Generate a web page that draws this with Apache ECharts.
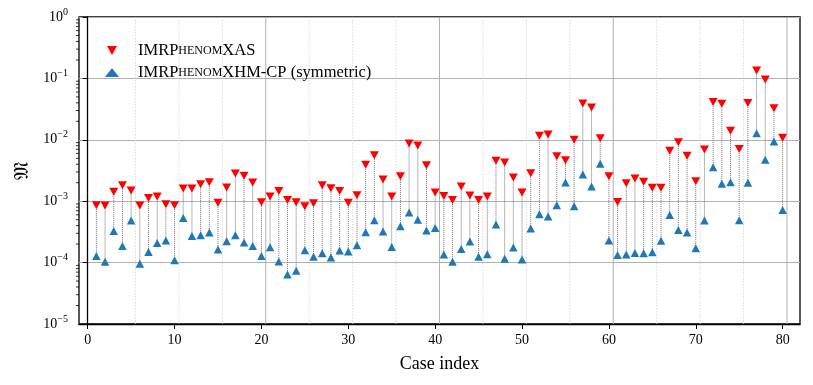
<!DOCTYPE html>
<html><head><meta charset="utf-8">
<script src="https://cdn.jsdelivr.net/npm/echarts@6/dist/echarts.min.js"></script>
<style>html,body{margin:0;padding:0;background:#fff}#c{width:813px;height:385px}</style>
</head><body><div id="c"></div>
<script>
// ---- data ----
const seriesNames = ['IMRPhenomXAS', 'IMRPhenomXHM-CP (symmetric)'];
const caseIndex = Array.from({length: 80}, (_, i) => i + 1);
const xasMismatch = [
  8.6e-4, 8.5e-4, 1.42e-3, 1.82e-3, 1.49e-3, 8.5e-4, 1.13e-3, 1.19e-3, 8.9e-4, 8.6e-4,
  1.61e-3, 1.61e-3, 1.89e-3, 2.04e-3, 9.4e-4, 1.67e-3, 2.83e-3, 2.59e-3, 2.01e-3, 9.6e-4,
  1.19e-3, 1.46e-3, 1.05e-3, 9.6e-4, 8.3e-4, 9.3e-4, 1.82e-3, 1.63e-3, 1.47e-3, 9.4e-4,
  1.25e-3, 3.91e-3, 5.62e-3, 2.26e-3, 1.19e-3, 2.56e-3, 8.7e-3, 8.09e-3, 3.86e-3, 1.38e-3,
  1.22e-3, 1.05e-3, 1.73e-3, 1.24e-3, 1.05e-3, 1.19e-3, 4.55e-3, 4.27e-3, 2.43e-3, 1.38e-3,
  2.86e-3, 1.16e-2, 1.22e-2, 5.42e-3, 4.66e-3, 1.0e-2, 3.91e-2, 3.37e-2, 1.06e-2, 2.56e-3,
  9.75e-4, 1.96e-3, 2.34e-3, 2.07e-3, 1.65e-3, 1.65e-3, 6.62e-3, 9.16e-3, 5.48e-3, 2.12e-3,
  6.95e-3, 4.11e-2, 3.86e-2, 1.40e-2, 7.05e-3, 3.96e-2, 0.135, 9.6e-2, 3.28e-2, 1.08e-2
];
const xhmMismatch = [
  1.28e-4, 1.03e-4, 3.28e-4, 1.87e-4, 4.84e-4, 9.6e-5, 1.49e-4, 2.09e-4, 2.29e-4, 1.09e-4,
  5.35e-4, 2.72e-4, 2.79e-4, 3.08e-4, 1.63e-4, 2.23e-4, 2.79e-4, 2.12e-4, 1.87e-4, 1.28e-4,
  1.78e-4, 1.04e-4, 6.4e-5, 7.4e-5, 1.59e-4, 1.25e-4, 1.42e-4, 1.21e-4, 1.57e-4, 1.51e-4,
  1.92e-4, 3.12e-4, 4.9e-4, 3.2e-4, 1.8e-4, 3.91e-4, 6.53e-4, 4.97e-4, 3.32e-4, 3.67e-4,
  1.35e-4, 1.03e-4, 1.67e-4, 2.2e-4, 1.25e-4, 1.37e-4, 4.17e-4, 1.15e-4, 1.76e-4, 1.12e-4,
  3.58e-4, 6.14e-4, 5.62e-4, 8.6e-4, 2.01e-3, 8.3e-4, 2.72e-3, 1.73e-3, 4.06e-3, 2.29e-4,
  1.33e-4, 1.35e-4, 1.44e-4, 1.42e-4, 1.47e-4, 2.26e-4, 5.98e-4, 3.41e-4, 3.08e-4, 1.71e-4,
  4.84e-4, 3.58e-3, 1.92e-3, 2.04e-3, 4.9e-4, 1.99e-3, 1.28e-2, 4.72e-3, 9.4e-3, 7.2e-4
];
const xTickLabels = [0, 10, 20, 30, 40, 50, 60, 70, 80];
const yDecades = [-5, -4, -3, -2, -1, 0];
const groupSize = 5;

// ---- derived ----
const X_MIN = -1, X_MAX = 82, Y_MIN = 1e-5, Y_MAX = 1;
const serif = '"Liberation Serif", "DejaVu Serif", serif';

const separators = [];
for (let k = 1; k * groupSize + 0.5 < 81; k++) {
  separators.push([k * groupSize + 0.5, k % 4 === 0 ? 1 : 0]);
}
const minorTicks = [];
for (let e = yDecades[0]; e < yDecades[yDecades.length - 1]; e++) for (let m = 2; m <= 9; m++) minorTicks.push([X_MIN, m * Math.pow(10, e)]);

const downTri = 'path://M0,0 L10,0 L5,9 Z';

const chart = echarts.init(document.getElementById('c'), null, {renderer: 'canvas'});
chart.setOption({
  animation: false,
  backgroundColor: '#fff',
  grid: {left: 79, top: 17, width: 721, height: 307, show: true, borderColor: '#000', borderWidth: 1.3, backgroundColor: 'transparent'},
  legend: {
    left: 105, top: 42, orient: 'vertical', itemGap: 5, itemWidth: 14, itemHeight: 9,
    data: seriesNames,
    formatter: n => '{n|IMRP}{sc|HENOM}{n|' + n.replace('IMRPhenom', '') + '}',
    textStyle: {
      padding: [0, 0, 0, 14],
      rich: {
        n: {fontFamily: serif, fontSize: 16.5, color: '#000'},
        sc: {fontFamily: serif, fontSize: 12, color: '#000'}
      }
    },
    padding: [0, 0, 0, 0]
  },
  xAxis: {
    type: 'value', min: X_MIN, max: X_MAX,
    name: 'Case index', nameLocation: 'middle', nameGap: 31,
    nameTextStyle: {fontFamily: serif, fontSize: 18, color: '#000'},
    axisLine: {show: true, lineStyle: {color: '#000', width: 1.3}},
    axisTick: {show: true, length: 5, lineStyle: {color: '#000', width: 1}, customValues: xTickLabels},
    axisLabel: {fontFamily: serif, fontSize: 14, color: '#000', margin: 9, customValues: xTickLabels},
    splitLine: {show: false}
  },
  yAxis: {
    type: 'log', logBase: 10, min: Y_MIN, max: Y_MAX, interval: 1,
    name: '\u{1D510}', nameLocation: 'middle', nameGap: 45, nameRotate: 90,
    nameTextStyle: {fontFamily: '"DejaVu Serif", "DejaVu Sans", serif', fontSize: 20, color: '#000'},
    axisLine: {show: true, lineStyle: {color: '#000', width: 1.3}},
    axisTick: {show: true, length: 5, lineStyle: {color: '#000', width: 1}},
    axisLabel: {
      margin: 11, color: '#000',
      formatter: v => {
        const e = Math.round(Math.log10(v));
        return '{b|10}{s|' + (e < 0 ? '\u2212' + (-e) : e) + '}';
      },
      rich: {
        b: {fontFamily: serif, fontSize: 14, color: '#000'},
        s: {fontFamily: serif, fontSize: 10, color: '#000', padding: [0, 0, 10, 0]}
      }
    },
    splitLine: {show: true, lineStyle: {color: '#b0b0b0', width: 1}}
  },
  series: [
    {
      name: 'separators', type: 'custom', silent: true, z: 1,
      data: separators,
      renderItem: (params, api) => {
        const x = api.value(0);
        const p1 = api.coord([x, Y_MAX]);
        const p2 = api.coord([x, Y_MIN]);
        const solid = api.value(1) === 1;
        return {type: 'line', shape: {x1: p1[0], y1: p1[1], x2: p2[0], y2: p2[1]},
          style: {stroke: solid ? '#b0b0b0' : '#cfcfcf', lineWidth: solid ? 1 : 0.8, lineDash: solid ? null : [1.5, 1.5]}};
      }
    },
    {
      name: 'minorTicks', type: 'custom', silent: true, clip: false, z: 5,
      data: minorTicks,
      renderItem: (params, api) => {
        const p = api.coord([api.value(0), api.value(1)]);
        return {type: 'line', shape: {x1: p[0] - 3, y1: p[1], x2: p[0], y2: p[1]},
          style: {stroke: '#000', lineWidth: 0.8}};
      }
    },
    {
      name: 'connectors', type: 'custom', silent: true, z: 2,
      encode: {x: 0, y: [1, 2]},
      data: caseIndex.map((c, i) => [c, xasMismatch[i], xhmMismatch[i]]),
      renderItem: (params, api) => {
        const a = api.coord([api.value(0), api.value(1)]);
        const b = api.coord([api.value(0), api.value(2)]);
        return {type: 'line', shape: {x1: a[0], y1: a[1], x2: b[0], y2: b[1]},
          style: {stroke: '#707070', lineWidth: 1, lineDash: [1, 1]}};
      }
    },
    {
      name: seriesNames[0], type: 'scatter', z: 4,
      symbol: downTri, symbolSize: [9, 8],
      itemStyle: {color: '#ff0000', opacity: 1},
      data: caseIndex.map((c, i) => [c, xasMismatch[i]])
    },
    {
      name: seriesNames[1], type: 'scatter', z: 4,
      symbol: 'triangle', symbolSize: [8.5, 8],
      itemStyle: {color: '#1f77b4', opacity: 1},
      data: caseIndex.map((c, i) => [c, xhmMismatch[i]])
    }
  ]
});
</script></body></html>
